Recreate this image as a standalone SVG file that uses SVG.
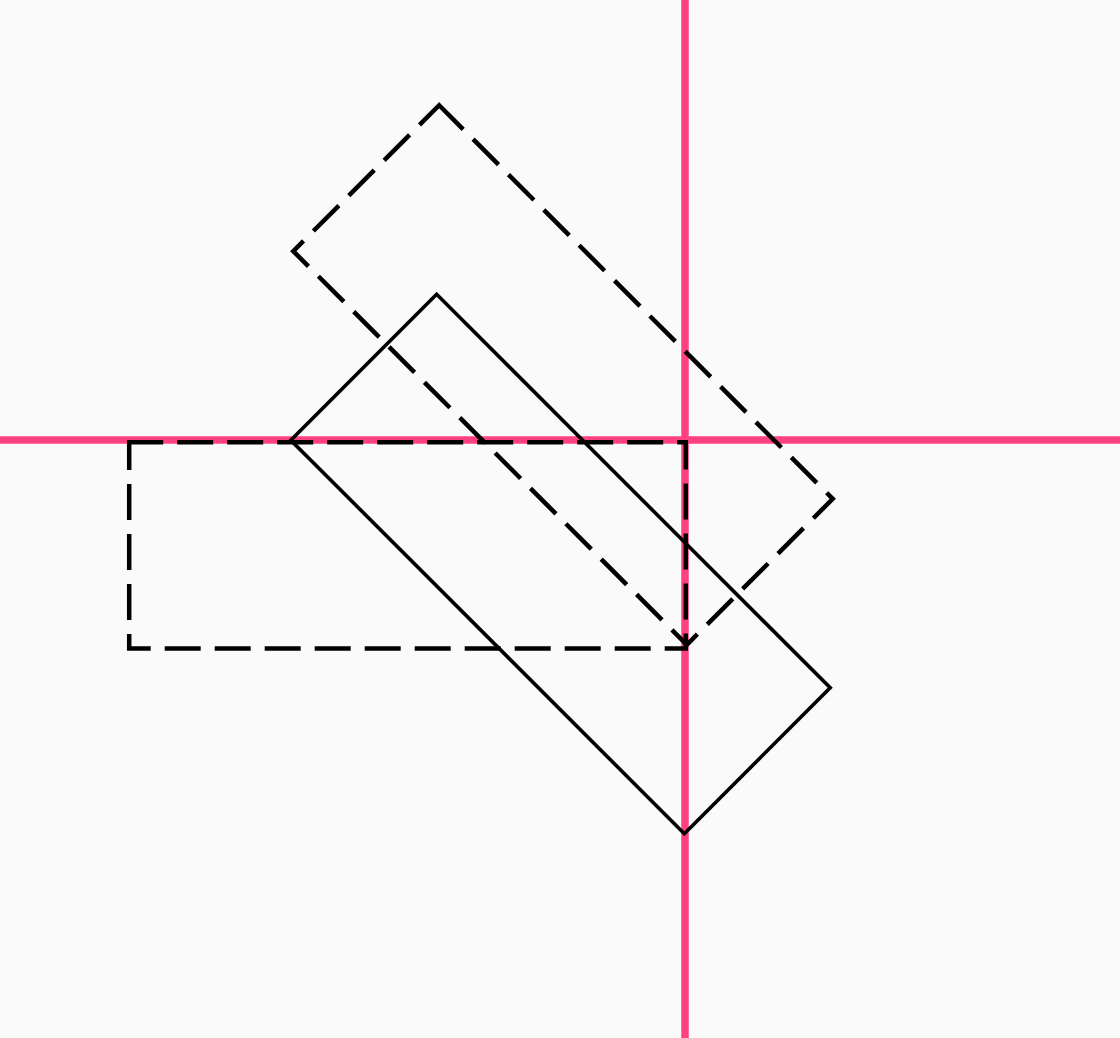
<svg xmlns="http://www.w3.org/2000/svg" width="1120" height="1038" viewBox="0 0 1120 1038">
  <style>
    .axis { stroke: #ff4081; stroke-width: 7.5; fill: none; }
    .dashed { fill: none; stroke: #000; stroke-width: 4.5; stroke-dasharray: 36 14; stroke-dashoffset: 2; }
    .solid { fill: none; stroke: #000; stroke-width: 3.6; }
  </style>
  <rect x="0" y="0" width="1120" height="1038" fill="#fafafa"/>
  <g id="axes">
    <line class="axis" x1="685" y1="0" x2="685" y2="1038"/>
    <line class="axis" x1="0" y1="440" x2="1120" y2="440"/>
  </g>
  <g id="original-rect">
    <rect class="dashed" x="129.2" y="442.2" width="556.6" height="206.3"/>
  </g>
  <g id="rotated-rect">
    <rect class="dashed" x="-278.3" y="-103.15" width="556.6" height="206.3" transform="translate(563 375) rotate(45)"/>
  </g>
  <g id="final-rect">
    <rect class="solid" x="-278.3" y="-103.15" width="556.6" height="206.3" transform="translate(560.5 564) rotate(45)"/>
  </g>
</svg>
